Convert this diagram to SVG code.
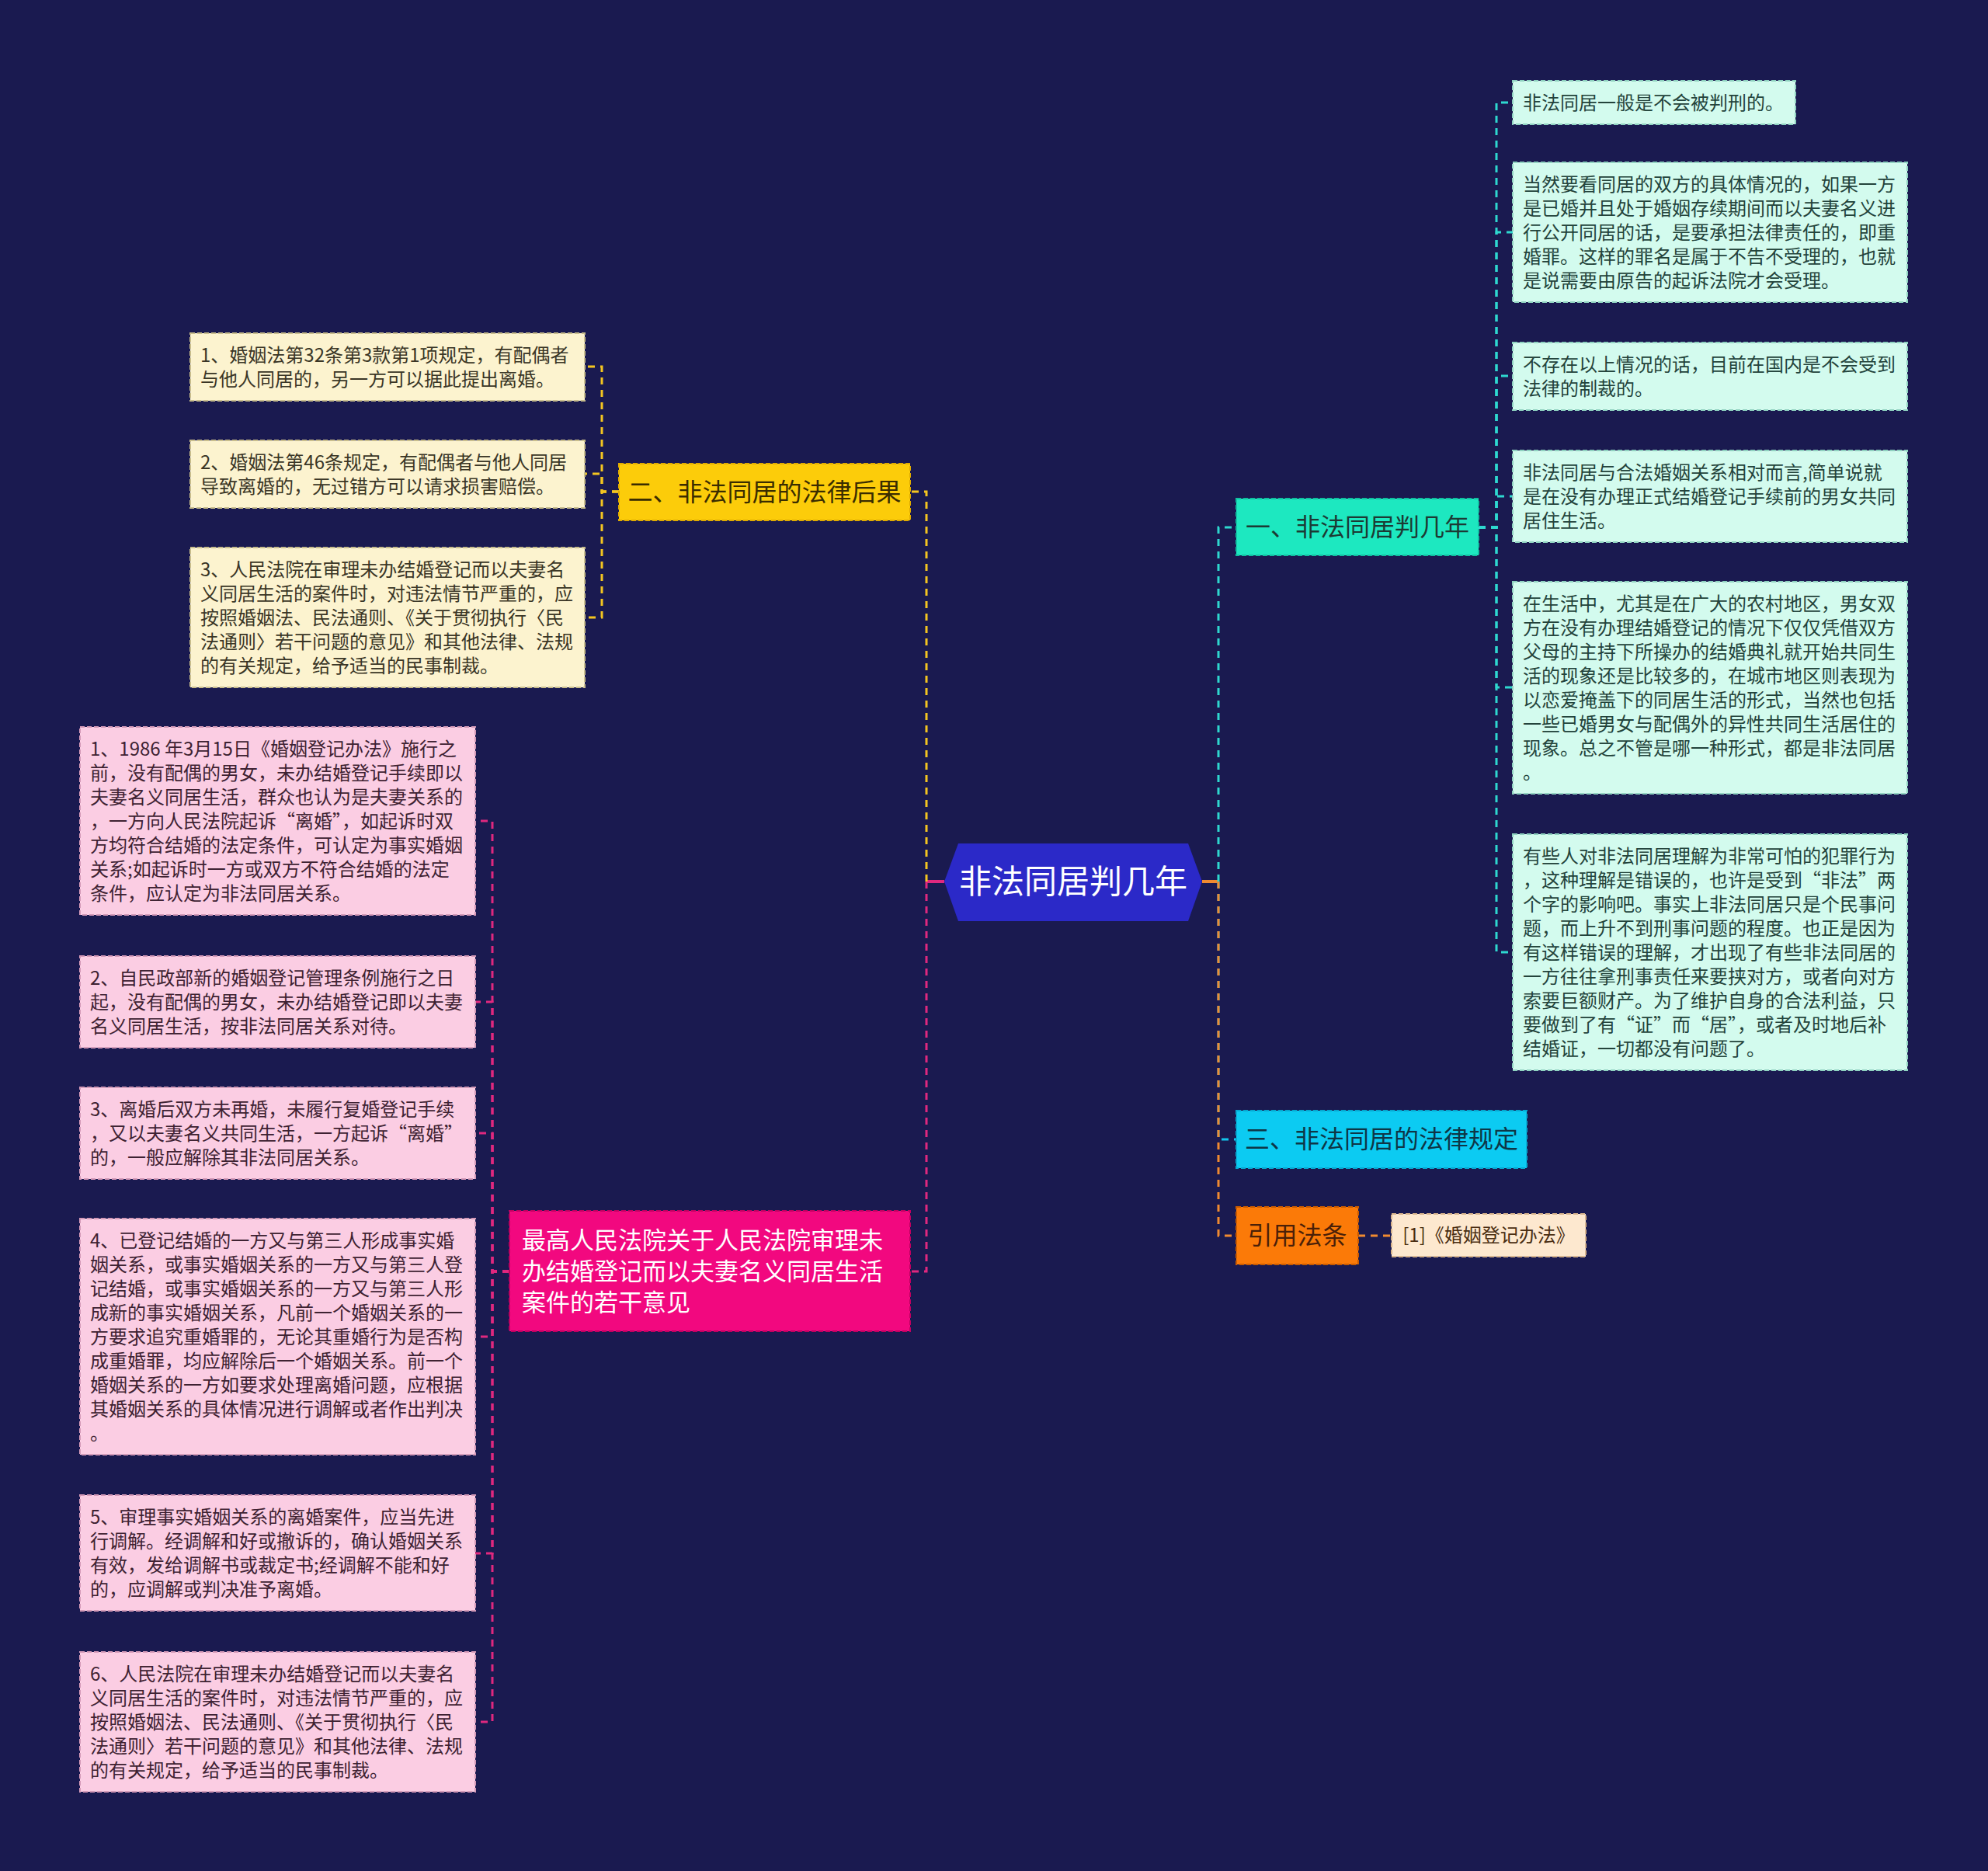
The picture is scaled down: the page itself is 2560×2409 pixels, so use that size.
<svg xmlns="http://www.w3.org/2000/svg" width="2560" height="2409" viewBox="0 0 2560 2409">
<style>
text{font-family:"Noto Sans CJK SC","Noto Sans",sans-serif;}
.c{fill:none;stroke-width:3;stroke-dasharray:9 7;}
.cy{stroke:#f4c520}.ct{stroke:#2ed8cf}.cc{stroke:#12c6ec}.co{stroke:#f08a30}.cp{stroke:#e0287f}
.stub{fill:none;stroke-width:4}
.t24{font-size:24px}
.t32{font-size:32px}
.by{fill:#fcf3cf;stroke:#c8bd8c;stroke-width:2;stroke-dasharray:6 3}
.bt{fill:#d3fbee;stroke:#8fd2c0;stroke-width:2;stroke-dasharray:6 3}
.bp{fill:#fbcde3;stroke:#d49ab8;stroke-width:2;stroke-dasharray:6 3}
.bo{fill:#fde8cf;stroke:#d8b48c;stroke-width:2;stroke-dasharray:6 3}
.ty{fill:#3a3626}.tt{fill:#23433b}.tp{fill:#3e2232}.to{fill:#4a2e12}
</style>
<rect width="2560" height="2409" fill="#1a1a50"/>
<g id="connectors">
<path class="stub cp" d="M1216,1135 H1193"/>
<path class="stub co" d="M1548,1135 H1569"/>
<path class="c cy" d="M1193,1135 V633 H1172"/>
<path class="c cp" d="M1193,1135 V1637 H1172"/>
<path class="c ct" d="M1569,1135 V679 H1592"/>
<path class="c cc" d="M1569,1135 V1467 H1592"/>
<path class="c co" d="M1569,1135 V1591 H1592"/>
<path class="c co" d="M1749,1591 H1792"/>
<path class="c cy" d="M797,633 H775 V472 H753"/>
<path class="c cy" d="M797,633 H775 V610 H753"/>
<path class="c cy" d="M797,633 H775 V795 H753"/>
<path class="c ct" d="M1904,679 H1927 V132 H1948"/>
<path class="c ct" d="M1904,679 H1927 V299 H1948"/>
<path class="c ct" d="M1904,679 H1927 V484 H1948"/>
<path class="c ct" d="M1904,679 H1927 V639 H1948"/>
<path class="c ct" d="M1904,679 H1927 V885 H1948"/>
<path class="c ct" d="M1904,679 H1927 V1226 H1948"/>
<path class="c cp" d="M656,1637 H634 V1057 H612"/>
<path class="c cp" d="M656,1637 H634 V1290 H612"/>
<path class="c cp" d="M656,1637 H634 V1459 H612"/>
<path class="c cp" d="M656,1637 H634 V1721 H612"/>
<path class="c cp" d="M656,1637 H634 V2000 H612"/>
<path class="c cp" d="M656,1637 H634 V2217 H612"/>
</g>
<g id="root">
<polygon points="1216,1135 1234,1086 1530,1086 1548,1135 1530,1186 1234,1186" fill="#2b29c8"/>
<text x="1382" y="1150" font-size="42" fill="#ffffff" text-anchor="middle">非法同居判几年</text>
</g>
<g id="n2">
<rect x="797" y="597" width="375" height="73" fill="#fccc0a" stroke="#e0ac00" stroke-width="2" stroke-dasharray="6 3"/>
<text x="984.5" y="645" class="t32" fill="#3a2c00" text-anchor="middle">二、非法同居的法律后果</text>
</g>
<g id="n2a">
<rect class="by" x="245" y="429" width="508" height="87"/>
<text class="t24 ty"><tspan x="258" y="466">1、婚姻法第32条第3款第1项规定，有配偶者</tspan><tspan x="258" y="497">与他人同居的，另一方可以据此提出离婚。</tspan></text>
</g>
<g id="n2b">
<rect class="by" x="245" y="567" width="508" height="87"/>
<text class="t24 ty"><tspan x="258" y="604">2、婚姻法第46条规定，有配偶者与他人同居</tspan><tspan x="258" y="635">导致离婚的，无过错方可以请求损害赔偿。</tspan></text>
</g>
<g id="n2c">
<rect class="by" x="245" y="705" width="508" height="180"/>
<text class="t24 ty"><tspan x="258" y="742">3、人民法院在审理未办结婚登记而以夫妻名</tspan><tspan x="258" y="773">义同居生活的案件时，对违法情节严重的，应</tspan><tspan x="258" y="804">按照婚姻法、民法通则、《关于贯彻执行〈民</tspan><tspan x="258" y="835">法通则〉若干问题的意见》和其他法律、法规</tspan><tspan x="258" y="866">的有关规定，给予适当的民事制裁。</tspan></text>
</g>
<g id="n1">
<rect x="1592" y="642" width="312" height="73" fill="#1de8c0" stroke="#10bfa0" stroke-width="2" stroke-dasharray="6 3"/>
<text x="1748" y="690" class="t32" fill="#1c3a34" text-anchor="middle">一、非法同居判几年</text>
</g>
<g id="n1a">
<rect class="bt" x="1948" y="104" width="364" height="56"/>
<text class="t24 tt" x="1961" y="141">非法同居一般是不会被判刑的。</text>
</g>
<g id="n1b">
<rect class="bt" x="1948" y="209" width="508" height="180"/>
<text class="t24 tt"><tspan x="1961" y="246">当然要看同居的双方的具体情况的，如果一方</tspan><tspan x="1961" y="277">是已婚并且处于婚姻存续期间而以夫妻名义进</tspan><tspan x="1961" y="308">行公开同居的话，是要承担法律责任的，即重</tspan><tspan x="1961" y="339">婚罪。这样的罪名是属于不告不受理的，也就</tspan><tspan x="1961" y="370">是说需要由原告的起诉法院才会受理。</tspan></text>
</g>
<g id="n1c">
<rect class="bt" x="1948" y="441" width="508" height="87"/>
<text class="t24 tt"><tspan x="1961" y="478">不存在以上情况的话，目前在国内是不会受到</tspan><tspan x="1961" y="509">法律的制裁的。</tspan></text>
</g>
<g id="n1d">
<rect class="bt" x="1948" y="580" width="508" height="118"/>
<text class="t24 tt"><tspan x="1961" y="617">非法同居与合法婚姻关系相对而言,简单说就</tspan><tspan x="1961" y="648">是在没有办理正式结婚登记手续前的男女共同</tspan><tspan x="1961" y="679">居住生活。</tspan></text>
</g>
<g id="n1e">
<rect class="bt" x="1948" y="749" width="508" height="273"/>
<text class="t24 tt"><tspan x="1961" y="786">在生活中，尤其是在广大的农村地区，男女双</tspan><tspan x="1961" y="817">方在没有办理结婚登记的情况下仅仅凭借双方</tspan><tspan x="1961" y="848">父母的主持下所操办的结婚典礼就开始共同生</tspan><tspan x="1961" y="879">活的现象还是比较多的，在城市地区则表现为</tspan><tspan x="1961" y="910">以恋爱掩盖下的同居生活的形式，当然也包括</tspan><tspan x="1961" y="941">一些已婚男女与配偶外的异性共同生活居住的</tspan><tspan x="1961" y="972">现象。总之不管是哪一种形式，都是非法同居</tspan><tspan x="1961" y="1003">。</tspan></text>
</g>
<g id="n1f">
<rect class="bt" x="1948" y="1074" width="508" height="304"/>
<text class="t24 tt"><tspan x="1961" y="1111">有些人对非法同居理解为非常可怕的犯罪行为</tspan><tspan x="1961" y="1142">，这种理解是错误的，也许是受到“非法”两</tspan><tspan x="1961" y="1173">个字的影响吧。事实上非法同居只是个民事问</tspan><tspan x="1961" y="1204">题，而上升不到刑事问题的程度。也正是因为</tspan><tspan x="1961" y="1235">有这样错误的理解，才出现了有些非法同居的</tspan><tspan x="1961" y="1266">一方往往拿刑事责任来要挟对方，或者向对方</tspan><tspan x="1961" y="1297">索要巨额财产。为了维护自身的合法利益，只</tspan><tspan x="1961" y="1328">要做到了有“证”而“居”，或者及时地后补</tspan><tspan x="1961" y="1359">结婚证，一切都没有问题了。</tspan></text>
</g>
<g id="n3">
<rect x="1592" y="1430" width="374" height="74" fill="#0ccbf2" stroke="#06a8d0" stroke-width="2" stroke-dasharray="6 3"/>
<text x="1779" y="1478" class="t32" fill="#0e3646" text-anchor="middle">三、非法同居的法律规定</text>
</g>
<g id="n4">
<rect x="1592" y="1554" width="157" height="74" fill="#fb7a08" stroke="#c85a00" stroke-width="2" stroke-dasharray="6 3"/>
<text x="1670.5" y="1602" class="t32" fill="#4a2008" text-anchor="middle">引用法条</text>
</g>
<g id="n4a">
<rect class="bo" x="1792" y="1563" width="250" height="55"/>
<text x="1917" y="1599" class="t24 to" text-anchor="middle">[1]《婚姻登记办法》</text>
</g>
<g id="n5">
<rect x="656" y="1559" width="516" height="155" fill="#f2087f" stroke="#c00060" stroke-width="2" stroke-dasharray="6 3"/>
<text font-size="31" fill="#ffffff"><tspan x="672" y="1608">最高人民法院关于人民法院审理未</tspan><tspan x="672" y="1648">办结婚登记而以夫妻名义同居生活</tspan><tspan x="672" y="1688">案件的若干意见</tspan></text>
</g>
<g id="n5a">
<rect class="bp" x="103" y="936" width="509" height="242"/>
<text class="t24 tp"><tspan x="116" y="973">1、1986 年3月15日《婚姻登记办法》施行之</tspan><tspan x="116" y="1004">前，没有配偶的男女，未办结婚登记手续即以</tspan><tspan x="116" y="1035">夫妻名义同居生活，群众也认为是夫妻关系的</tspan><tspan x="116" y="1066">，一方向人民法院起诉“离婚”，如起诉时双</tspan><tspan x="116" y="1097">方均符合结婚的法定条件，可认定为事实婚姻</tspan><tspan x="116" y="1128">关系;如起诉时一方或双方不符合结婚的法定</tspan><tspan x="116" y="1159">条件，应认定为非法同居关系。</tspan></text>
</g>
<g id="n5b">
<rect class="bp" x="103" y="1231" width="509" height="118"/>
<text class="t24 tp"><tspan x="116" y="1268">2、自民政部新的婚姻登记管理条例施行之日</tspan><tspan x="116" y="1299">起，没有配偶的男女，未办结婚登记即以夫妻</tspan><tspan x="116" y="1330">名义同居生活，按非法同居关系对待。</tspan></text>
</g>
<g id="n5c">
<rect class="bp" x="103" y="1400" width="509" height="118"/>
<text class="t24 tp"><tspan x="116" y="1437">3、离婚后双方未再婚，未履行复婚登记手续</tspan><tspan x="116" y="1468">，又以夫妻名义共同生活，一方起诉“离婚”</tspan><tspan x="116" y="1499">的，一般应解除其非法同居关系。</tspan></text>
</g>
<g id="n5d">
<rect class="bp" x="103" y="1569" width="509" height="304"/>
<text class="t24 tp"><tspan x="116" y="1606">4、已登记结婚的一方又与第三人形成事实婚</tspan><tspan x="116" y="1637">姻关系，或事实婚姻关系的一方又与第三人登</tspan><tspan x="116" y="1668">记结婚，或事实婚姻关系的一方又与第三人形</tspan><tspan x="116" y="1699">成新的事实婚姻关系，凡前一个婚姻关系的一</tspan><tspan x="116" y="1730">方要求追究重婚罪的，无论其重婚行为是否构</tspan><tspan x="116" y="1761">成重婚罪，均应解除后一个婚姻关系。前一个</tspan><tspan x="116" y="1792">婚姻关系的一方如要求处理离婚问题，应根据</tspan><tspan x="116" y="1823">其婚姻关系的具体情况进行调解或者作出判决</tspan><tspan x="116" y="1854">。</tspan></text>
</g>
<g id="n5e">
<rect class="bp" x="103" y="1925" width="509" height="149"/>
<text class="t24 tp"><tspan x="116" y="1962">5、审理事实婚姻关系的离婚案件，应当先进</tspan><tspan x="116" y="1993">行调解。经调解和好或撤诉的，确认婚姻关系</tspan><tspan x="116" y="2024">有效，发给调解书或裁定书;经调解不能和好</tspan><tspan x="116" y="2055">的，应调解或判决准予离婚。</tspan></text>
</g>
<g id="n5f">
<rect class="bp" x="103" y="2127" width="509" height="180"/>
<text class="t24 tp"><tspan x="116" y="2164">6、人民法院在审理未办结婚登记而以夫妻名</tspan><tspan x="116" y="2195">义同居生活的案件时，对违法情节严重的，应</tspan><tspan x="116" y="2226">按照婚姻法、民法通则、《关于贯彻执行〈民</tspan><tspan x="116" y="2257">法通则〉若干问题的意见》和其他法律、法规</tspan><tspan x="116" y="2288">的有关规定，给予适当的民事制裁。</tspan></text>
</g>
</svg>
